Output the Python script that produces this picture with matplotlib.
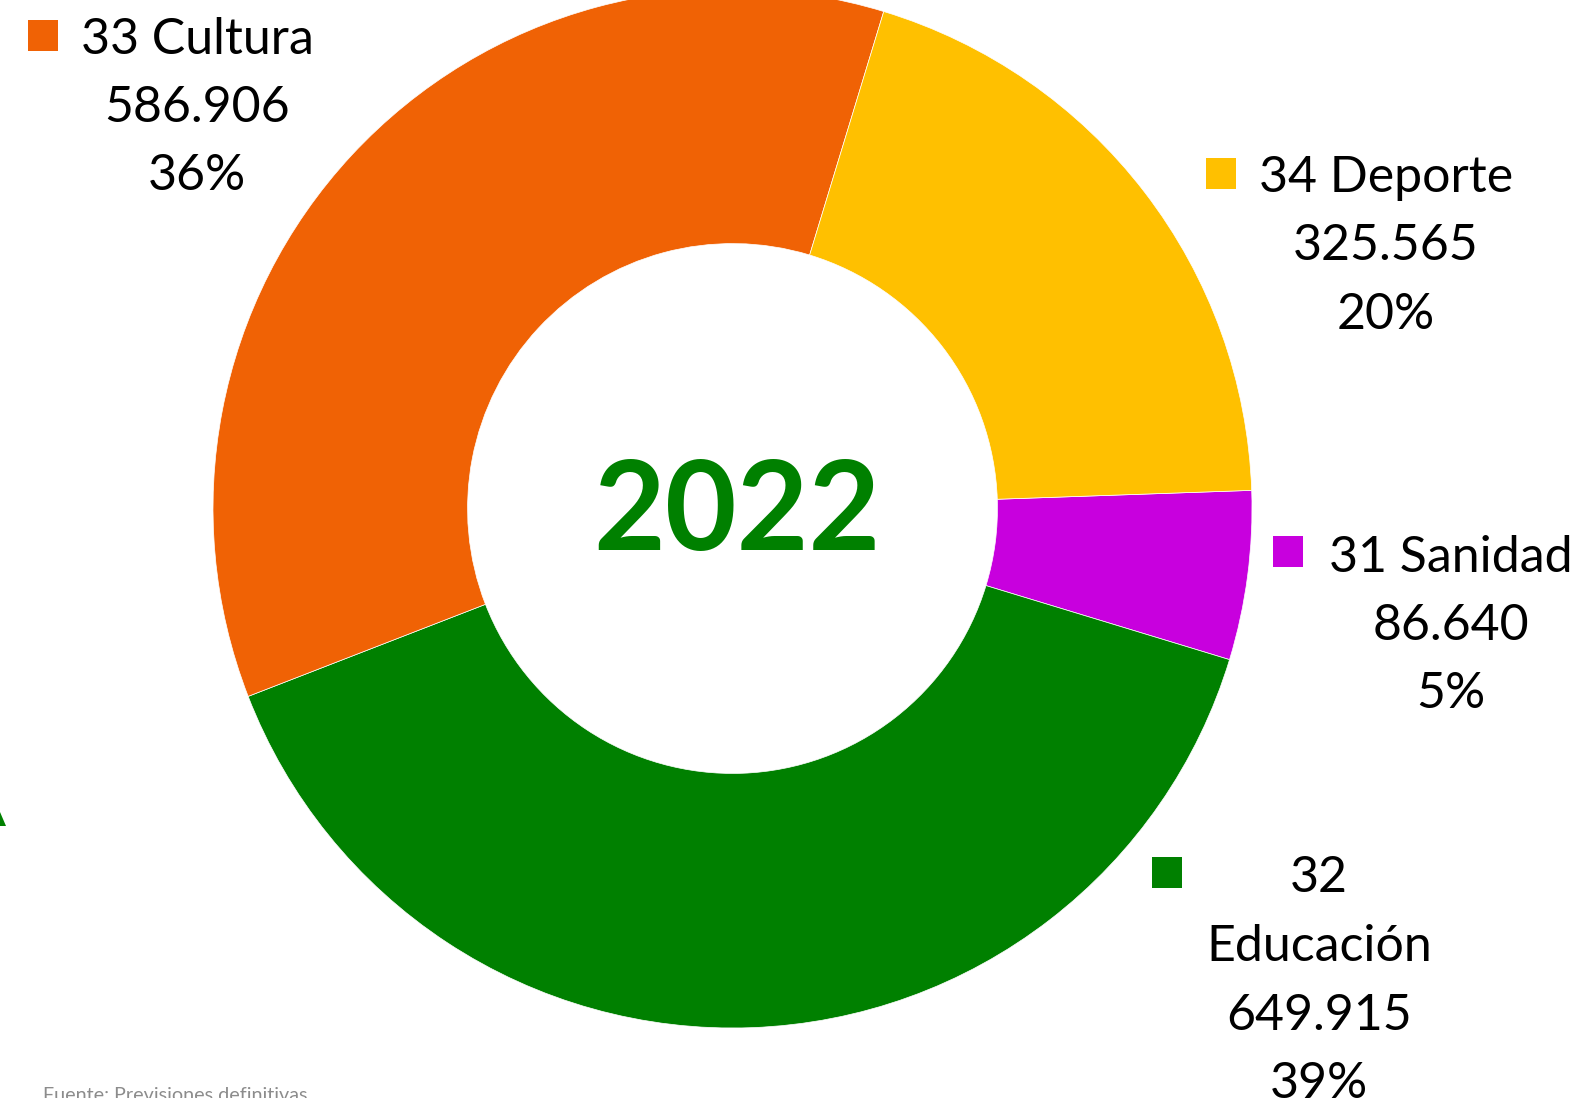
import matplotlib
matplotlib.use("Agg")
import matplotlib.pyplot as plt
from matplotlib.patches import Rectangle, Polygon

# data (clockwise from the right)
categories = ["31 Sanidad", "32 Educación", "33 Cultura", "34 Deporte"]
values = [86640, 649915, 586906, 325565]
value_labels = ["86.640", "649.915", "586.906", "325.565"]
pct_labels = ["5%", "39%", "36%", "20%"]
colors = ["#C800DE", "#008000", "#F06205", "#FFC000"]
year = "2022"

W, H = 1583, 1098
plt.rcParams['font.family'] = ['Lato', 'DejaVu Sans']

fig = plt.figure(figsize=(W / 100, H / 100), dpi=100)
ax = fig.add_axes([0, 0, 1, 1])
ax.set_xlim(0, W)
ax.set_ylim(0, H)
ax.set_aspect('equal')
ax.axis('off')

def Y(y):
    # picture coords (down) -> axes coords (up)
    return H - y

cx, cy, r = 732.5, 508.5, 519.5
ax.pie(values, colors=colors, startangle=2, counterclock=False,
       center=(cx, Y(cy)), radius=r,
       wedgeprops=dict(width=r * 0.49, edgecolor='white', linewidth=0.5))
ax.set_xlim(0, W)
ax.set_ylim(0, H)

ax.text(737, Y(550), year, ha='center', va='baseline', fontsize=89,
        fontweight='bold', color='#008000')

# label blocks: square key, text centre x, baselines
label_lines = [
    [categories[0], value_labels[0], pct_labels[0]],
    ["32", "Educación", value_labels[1], pct_labels[1]],
    [categories[2], value_labels[2], pct_labels[2]],
    [categories[3], value_labels[3], pct_labels[3]],
]
keys = [(1273, 536), (1152, 857), (28, 20), (1206, 158)]
text_x = [1451, 1319, 197, 1386]
first_base = [571.5, 892.5, 53.5, 192]
step = 68.5
fs = 36

for i in range(len(values)):
    kx, ky = keys[i]
    ax.add_patch(Rectangle((kx, Y(ky + 30.5)), 30.5, 30.5, color=colors[i], lw=0))
    for j, line in enumerate(label_lines[i]):
        ax.text(text_x[i], Y(first_base[i] + j * step), line, ha='center',
                va='baseline', fontsize=fs, color='black')

ax.text(43, Y(1101), "Fuente: Previsiones definitivas", ha='left', va='baseline',
        fontsize=14.2, color='#8C8C8C')

# clipped arrow tip at the left border
ax.add_patch(Polygon([(0, Y(812)), (0, Y(826)), (6, Y(826))], closed=True,
                     color='#008000', lw=0))

fig.savefig("out.png", dpi=100)
